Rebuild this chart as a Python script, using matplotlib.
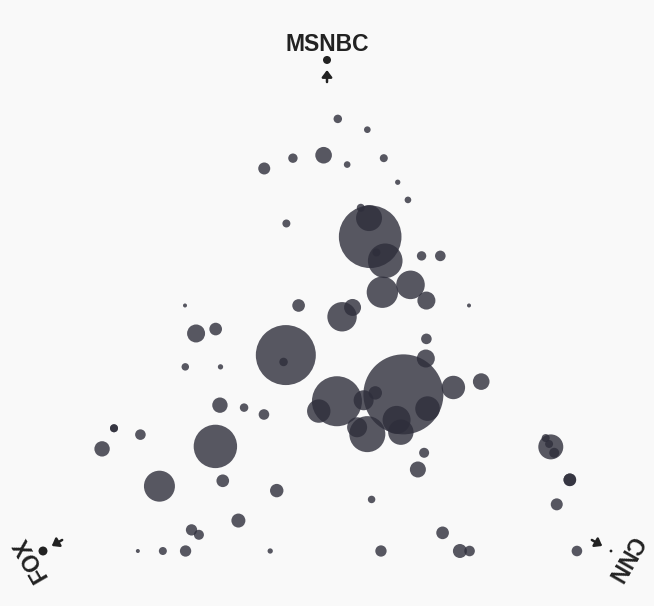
import numpy as np
import matplotlib
matplotlib.use("Agg")
import matplotlib.pyplot as plt

# Ternary shares (%) of audience: FOX, CNN, MSNBC ; bubble weight (area)
fox = [4.1, 0.0, 10.3, 16.0, 22.1, 7.1, 0.0, 0.0, 0.0, 23.8,
       10.4, 8.7, 9.1, 10.2, 10.9, 3.3, 0.0, 13.9, 8.2, 7.0,
       30.0, 50.0, 0.0, 23.5, 20.7, 37.3, 38.4, 50.9, 47.0, 56.2,
       50.0, 10.9, 13.0, 20.6, 33.0, 11.1, 5.6, 37.2, 28.2, 25.4,
       17.8, 24.4, 24.9, 31.0, 32.1, 54.0, 50.0, 47.2, 22.9, 25.7,
       59.0, 72.9, 79.2, 75.0, 75.0, 71.0, 61.2, 52.7, 62.5, 71.7,
       70.9, 83.3, 78.9, 74.9, 60.0, 36.9, 27.8, 40.5, 26.6, 24.9,
       0.0, 0.0, 0.0, 0.0, 0.0, 0.0, 4.8, 6.0]
cnn = [7.9, 14.2, 9.1, 4.0, 0.0, 14.2, 20.0, 24.9, 28.5, 9.5,
       25.6, 23.5, 21.0, 30.7, 28.3, 36.6, 39.9, 33.4, 37.6, 42.0,
       20.0, 0.0, 50.0, 28.8, 29.7, 22.8, 23.1, 4.8, 7.8, 6.3,
       12.5, 45.9, 47.8, 47.5, 36.5, 55.6, 59.9, 34.3, 41.1, 42.4,
       53.2, 48.9, 50.9, 45.2, 42.7, 16.3, 20.8, 25.0, 57.1, 57.7,
       19.7, 13.9, 0.0, 0.0, 0.0, 5.3, 24.5, 35.0, 31.3, 24.0,
       25.8, 16.7, 21.1, 25.1, 40.0, 52.6, 68.5, 59.5, 73.4, 75.1,
       78.8, 77.0, 78.2, 80.0, 85.5, 85.5, 85.7, 94.0]
msnbc = [88.0, 85.8, 80.6, 80.0, 77.9, 78.7, 80.0, 75.1, 71.5, 66.7,
         64.0, 67.8, 69.9, 59.1, 60.8, 60.1, 60.1, 52.7, 54.2, 51.0,
         50.0, 50.0, 50.0, 47.7, 49.6, 39.9, 38.5, 44.3, 45.2, 37.5,
         37.5, 43.2, 39.2, 31.9, 30.5, 33.3, 34.5, 28.5, 30.7, 32.2,
         29.0, 26.7, 24.2, 23.8, 25.2, 29.7, 29.2, 27.8, 20.0, 16.6,
         21.3, 13.2, 20.8, 25.0, 25.0, 23.7, 14.3, 12.3, 6.2, 4.3,
         3.3, 0.0, 0.0, 0.0, 0.0, 10.5, 3.7, 0.0, 0.0, 0.0,
         21.2, 23.0, 21.8, 20.0, 14.5, 14.5, 9.5, 0.0]
weight = [18, 11, 69, 22, 36, 11, 16, 7, 11, 16,
          980, 169, 16, 300, 16, 22, 28, 246, 204, 81,
          40, 4, 4, 216, 72, 900, 18, 81, 40, 14,
          7, 28, 81, 1600, 625, 137, 69, 137, 100, 45,
          151, 196, 161, 324, 100, 59, 18, 28, 25, 64,
          471, 240, 59, 16, 16, 28, 40, 45, 49, 32,
          25, 4, 16, 32, 7, 14, 40, 32, 49, 28,
          156, 16, 16, 25, 40, 40, 36, 28]

corner_labels = ["MSNBC", "FOX", "CNN"]
corner_dot_weight = [16, 20, 2]

BG = "#f9f9f9"
INK = "#222222"

fig = plt.figure(figsize=(6.54, 6.06), dpi=100, facecolor=BG)
ax = fig.add_axes([0, 0, 1, 1])
ax.set_facecolor(BG)
ax.set_xlim(-43 / 568, (654 - 43) / 568)
ax.set_ylim(-55 / 567, 551 / 567)
ax.set_aspect("auto")
ax.axis("off")

h = np.sqrt(3) / 2
f = np.array(fox) / 100.0
c = np.array(cnn) / 100.0
m = np.array(msnbc) / 100.0
x = c + m / 2
y = m * h
s = np.array(weight) * 2.0736

ax.scatter(x, y, s=s, color="#2e2e3b", alpha=0.8, linewidths=0, zorder=2)

# corners: MSNBC (top), FOX (bottom-left), CNN (bottom-right)
corners = np.array([[0.5, h], [0.0, 0.0], [1.0, 0.0]])
ax.scatter(corners[:, 0], corners[:, 1], s=np.array(corner_dot_weight) * 2.0736,
           color=INK, linewidths=0, zorder=3)

centroid = np.array([0.5, h / 3])
label_off = np.array([0.0, 0.604])
arrow_tip = np.array([0.0, 0.5596])
arrow_tail = np.array([0.0, 0.5384])

def rot(v, deg):
    t = np.radians(deg)
    R = np.array([[np.cos(t), -np.sin(t)], [np.sin(t), np.cos(t)]])
    return R @ v

for lab, ang in zip(corner_labels, [0, 120, -120]):
    p = centroid + rot(label_off, ang)
    ax.text(p[0], p[1], lab, rotation=ang, rotation_mode="anchor",
            ha="center", va="center", fontsize=16.5, fontweight="bold",
            color=INK, family=["Liberation Sans", "DejaVu Sans"], zorder=4)
    tip = centroid + rot(arrow_tip, ang)
    tail = centroid + rot(arrow_tail, ang)
    ax.annotate("", xy=tip, xytext=tail,
                arrowprops=dict(arrowstyle="-|>,head_width=0.3,head_length=0.4",
                                color=INK, lw=1.8, shrinkA=0, shrinkB=0),
                zorder=4)

fig.savefig("out.png", dpi=100, facecolor=BG)
